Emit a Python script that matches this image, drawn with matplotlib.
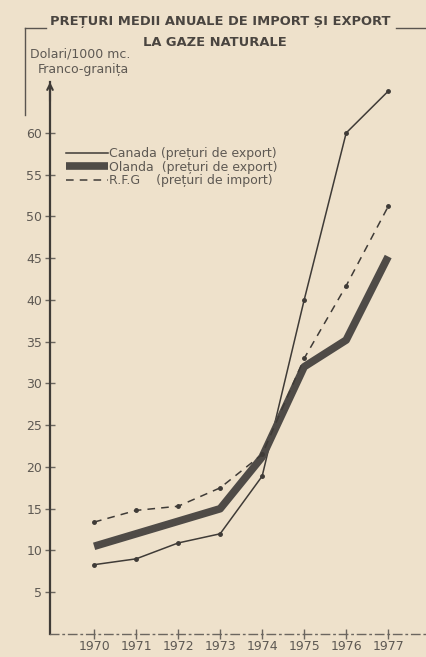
import matplotlib
matplotlib.use('Agg')
import matplotlib.pyplot as plt
from matplotlib.lines import Line2D

# data
years = [1970, 1971, 1972, 1973, 1974, 1975, 1976, 1977]
canada = [8.3, 9.0, 10.9, 12.0, 18.9, 40.0, 60.0, 65.0]
olanda = [10.5, 12.0, 13.5, 15.0, 21.2, 32.0, 35.2, 45.2]
rfg = [13.4, 14.8, 15.3, 17.5, 21.5, 33.0, 41.7, 51.2]
yticks = [5, 10, 15, 20, 25, 30, 35, 40, 45, 50, 55, 60]
labels = ['Canada (prețuri de export)',
          'Olanda  (prețuri de export)',
          'R.F.G    (prețuri de import)']

bg = '#eee1cb'
ink = '#3f3b37'
txt = '#5e5953'

fig = plt.figure(figsize=(4.26, 6.57), dpi=100, facecolor=bg)
ax = fig.add_axes([50/426, 23/657, 376/426, 552/657])
ax.set_facecolor(bg)

ax.plot(years, canada, color=ink, lw=1.1, marker='o', ms=2.5, label=labels[0])
ax.plot(years, olanda, color='#4f4b47', lw=5.5, solid_capstyle='butt', label=labels[1])
ax.plot(years, rfg, color=ink, lw=1.1, ls=(0, (5, 4)), marker='o', ms=2.5, label=labels[2])

ax.set_xlim(1968.95, 1977.9)
ax.set_ylim(0, 66.1)

for s in ['top', 'right']:
    ax.spines[s].set_visible(False)
ax.spines['left'].set_color(ink)
ax.spines['left'].set_linewidth(1.6)
ax.spines['bottom'].set_color('#6b665f')
ax.spines['bottom'].set_linewidth(1.0)
ax.spines['bottom'].set_linestyle((0, (6, 3, 1, 3)))

ax.set_xticks(years)
ax.set_xticklabels([str(y) for y in years])
ax.set_yticks(yticks)
ax.tick_params(axis='both', direction='inout', length=7, width=1.0, colors='#6b665f',
               labelsize=9, labelcolor=txt)
ax.tick_params(axis='x', pad=1)
ax.tick_params(axis='y', pad=2)

# arrow on the y axis
ax.annotate('', xy=(0, 1.005), xytext=(0, 0.96), xycoords='axes fraction',
            arrowprops=dict(arrowstyle='->', lw=1.5, color=ink))

leg = ax.legend(loc='upper left', bbox_to_anchor=(0.03, 0.891), frameon=False,
                fontsize=9, handlelength=3.3, handletextpad=0.15, labelspacing=0.05,
                borderaxespad=0)
for t in leg.get_texts():
    t.set_color(txt)
for h in leg.legend_handles:
    h.set_marker('None')

# title
fig.text(0.517, 0.967, 'PREȚURI MEDII ANUALE DE IMPORT ȘI EXPORT', ha='center', va='center',
         fontsize=9.4, fontweight='bold', color='#4a4540')
fig.text(0.505, 0.936, 'LA GAZE NATURALE', ha='center', va='center',
         fontsize=9.4, fontweight='bold', color='#4a4540')
fig.add_artist(Line2D([25/426, 46/426], [1 - 28/657, 1 - 28/657], color='#5a5550', lw=1))
fig.add_artist(Line2D([396/426, 1.0], [1 - 28/657, 1 - 28/657], color='#5a5550', lw=1))
fig.add_artist(Line2D([25/426, 25/426], [1 - 28/657, 1 - 115/657], color='#5a5550', lw=1))

# unit label
fig.text(30/426, 1 - 54/657, 'Dolari/1000 mc.', ha='left', va='center', fontsize=9, color=txt)
fig.text(38/426, 1 - 70/657, 'Franco-granița', ha='left', va='center', fontsize=9, color=txt)

fig.savefig('out.png', dpi=100, facecolor=bg)
